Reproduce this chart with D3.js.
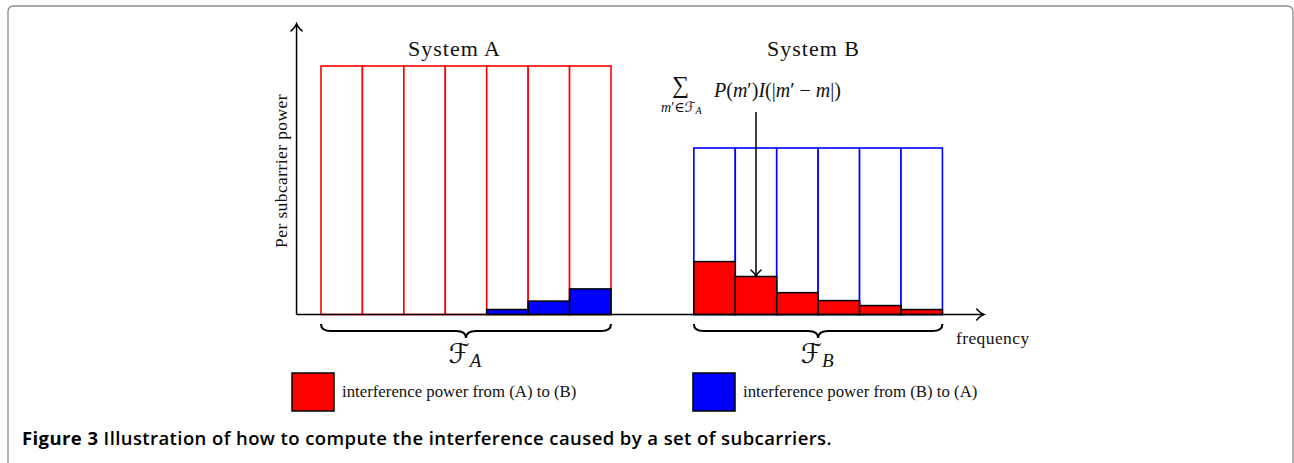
<!DOCTYPE html>
<html>
<head>
<meta charset="utf-8">
<script src="https://cdn.jsdelivr.net/npm/d3@7"></script>
<style>
  body { margin: 0; background: #fff; }
  svg { display: block; }
  .cm { font-family: "Liberation Serif", "DejaVu Serif", serif; fill: #111; }
</style>
</head>
<body>
<script>
// subcarrier indices of each system, and the power levels
const subcarriersA = [0, 1, 2, 3, 4, 5, 6];
const subcarriersB = [9, 10, 11, 12, 13, 14];
const powerA = [1, 1, 1, 1, 1, 1, 1];
const powerB = [0.67, 0.67, 0.67, 0.67, 0.67, 0.67];
const leakBtoA = [0, 0, 0, 0, 0.02, 0.054, 0.103];
const leakAtoB = [0.213, 0.153, 0.088, 0.056, 0.036, 0.02];
const systemTitles = ["System A", "System B"];
const legendLabels = ["interference power from (A) to (B)", "interference power from (B) to (A)"];
const legendColors = ["#ff0000", "#0000ff"];

const W = 1294, H = 463;
const svg = d3.select("body").append("svg").attr("width", W).attr("height", H);

// frame around the figure
svg.append("path")
    .attr("d", "M8,463 V12 Q8,6 14,6 H1287 Q1293,6 1293,12 V463")
    .attr("fill", "none").attr("stroke", "#8a8a8a").attr("stroke-width", 1.3);

let x = d3.scaleLinear().domain([0, 7]).range([321, 611]);
let y = d3.scaleLinear().domain([0, 1]).range([314.5, 66]);

let xAxisStart = -0.59, xAxisEnd = 16.0, yAxisEnd = 1.17;

// system A: red subcarrier outlines, blue leakage from B
svg.selectAll(".barA").data(subcarriersA).enter()
    .append("rect").attr("class", "barA")
    .attr("x", d => x(d)).attr("width", x(1) - x(0))
    .attr("y", (d, i) => y(powerA[i])).attr("height", (d, i) => y(0) - y(powerA[i]))
    .attr("fill", "#fff").attr("stroke", "#ff0000").attr("stroke-width", 1.6);

svg.selectAll(".leakA").data(subcarriersA.filter((d, i) => leakBtoA[i] > 0)).enter()
    .append("rect").attr("class", "leakA")
    .attr("x", d => x(d)).attr("width", x(1) - x(0))
    .attr("y", d => y(leakBtoA[subcarriersA.indexOf(d)]))
    .attr("height", d => y(0) - y(leakBtoA[subcarriersA.indexOf(d)]))
    .attr("fill", "#0000ff").attr("stroke", "#000").attr("stroke-width", 1.5);

// system B: blue outlines, red leakage from A
svg.selectAll(".barB").data(subcarriersB).enter()
    .append("rect").attr("class", "barB")
    .attr("x", d => x(d)).attr("width", x(1) - x(0))
    .attr("y", (d, i) => y(powerB[i])).attr("height", (d, i) => y(0) - y(powerB[i]))
    .attr("fill", "#fff").attr("stroke", "#0000ff").attr("stroke-width", 1.6);

svg.selectAll(".leakB").data(subcarriersB).enter()
    .append("rect").attr("class", "leakB")
    .attr("x", d => x(d)).attr("width", x(1) - x(0))
    .attr("y", (d, i) => y(leakAtoB[i])).attr("height", (d, i) => y(0) - y(leakAtoB[i]))
    .attr("fill", "#ff0000").attr("stroke", "#000").attr("stroke-width", 1.5);

// axes with open arrow heads
let ax = x(xAxisStart), ay = y(0);
svg.append("line").attr("x1", ax).attr("y1", ay).attr("x2", ax).attr("y2", y(yAxisEnd))
    .attr("stroke", "#000").attr("stroke-width", 1.5);
svg.append("line").attr("x1", ax).attr("y1", ay).attr("x2", x(xAxisEnd)).attr("y2", ay)
    .attr("stroke", "#000").attr("stroke-width", 1.5);

function arrowHead(tx, ty, dir, s) {
    // dir: "up", "down", "right"
    let p;
    if (dir === "up") p = `M${tx - s},${ty + s * 1.3} Q${tx - 1},${ty + 3} ${tx},${ty} Q${tx + 1},${ty + 3} ${tx + s},${ty + s * 1.3}`;
    else if (dir === "down") p = `M${tx - s},${ty - s * 1.3} Q${tx - 1},${ty - 3} ${tx},${ty} Q${tx + 1},${ty - 3} ${tx + s},${ty - s * 1.3}`;
    else p = `M${tx - s * 1.3},${ty - s} Q${tx - 3},${ty - 1} ${tx},${ty} Q${tx - 3},${ty + 1} ${tx - s * 1.3},${ty + s}`;
    svg.append("path").attr("d", p).attr("fill", "none")
        .attr("stroke", "#000").attr("stroke-width", 1.5).attr("stroke-linecap", "round");
}
arrowHead(ax, y(yAxisEnd), "up", 5.5);
arrowHead(x(xAxisEnd), ay, "right", 5.5);

svg.append("text").attr("class", "cm")
    .attr("transform", `translate(${ax - 10},171) rotate(-90)`)
    .attr("text-anchor", "middle").attr("font-size", 17.5).attr("letter-spacing", 0.4)
    .text("Per subcarrier power");

svg.append("text").attr("class", "cm")
    .attr("x", 956).attr("y", 344).attr("font-size", 17.5).attr("letter-spacing", 0.4)
    .text("frequency");

// system titles (sit a little left of their bar groups in the original)
let groups = [subcarriersA, subcarriersB];
let titleX = [454.5, 813.5];
svg.selectAll(".title").data(systemTitles).enter()
    .append("text").attr("class", "cm title")
    .attr("x", (d, i) => titleX[i])
    .attr("y", 56).attr("text-anchor", "middle").attr("font-size", 22).attr("letter-spacing", 1)
    .text(d => d);

// underbraces
function brace(x0, x1, y0) {
    let xm = (x0 + x1) / 2, y1 = y0 + 7, y2 = y0 + 14, r = 10;
    return `M${x0},${y0} Q${x0},${y1} ${x0 + r},${y1} L${xm - r},${y1} Q${xm},${y1} ${xm},${y2}` +
           ` Q${xm},${y1} ${xm + r},${y1} L${x1 - r},${y1} Q${x1},${y1} ${x1},${y0}`;
}
let braceNames = ["A", "B"];
groups.forEach((g, i) => {
    let x0 = x(g[0]), x1 = x(g[g.length - 1] + 1);
    svg.append("path").attr("d", brace(x0, x1, 324))
        .attr("fill", "none").attr("stroke", "#000").attr("stroke-width", 2);
    let t = svg.append("text").attr("class", "cm")
        .attr("x", (x0 + x1) / 2 - 1).attr("y", 363).attr("text-anchor", "middle");
    t.append("tspan").attr("font-family", "DejaVu Sans").attr("font-size", 27).text("\u2131");
    t.append("tspan").attr("font-size", 19).attr("font-style", "italic").attr("dy", 4).text(braceNames[i]);
});

// formula and arrow pointing at second subcarrier of B
let target = subcarriersB[1];
let tx = x(target + 0.5);
svg.append("line").attr("x1", tx).attr("y1", 112).attr("x2", tx).attr("y2", y(leakAtoB[1]) - 1)
    .attr("stroke", "#000").attr("stroke-width", 1.5);
arrowHead(tx, y(leakAtoB[1]), "down", 5);

svg.append("text").attr("class", "cm").attr("x", 680.5).attr("y", 93)
    .attr("text-anchor", "middle").attr("font-size", 24).text("\u2211");
let sub = svg.append("text").attr("class", "cm").attr("x", 661).attr("y", 112).attr("font-size", 14);
sub.append("tspan").attr("font-style", "italic").text("m");
sub.append("tspan").text("\u2032\u2208");
sub.append("tspan").attr("font-family", "DejaVu Sans").text("\u2131");
sub.append("tspan").attr("font-style", "italic").attr("font-size", 10).attr("dy", 2).text("A");

let f = svg.append("text").attr("class", "cm").attr("x", 714).attr("y", 97)
    .attr("font-size", 20);
[["P", 1], ["(", 0], ["m", 1], ["\u2032)", 0], ["I", 1], ["(|", 0], ["m", 1], ["\u2032 \u2212 ", 0], ["m", 1], ["|)", 0]]
    .forEach(p => f.append("tspan").attr("font-style", p[1] ? "italic" : "normal").text(p[0]));

// legend
let legendX = [292, 693];
legendLabels.forEach((lab, i) => {
    svg.append("rect").attr("x", legendX[i]).attr("y", 373).attr("width", 42).attr("height", 38)
        .attr("fill", legendColors[i]).attr("stroke", "#000").attr("stroke-width", 1.5);
    svg.append("text").attr("class", "cm").attr("x", legendX[i] + 50).attr("y", 397)
        .attr("font-size", 16.8).text(lab);
});

// caption, spaced out to the width it has in the figure
let cap = svg.append("text").attr("x", 22).attr("y", 445)
    .attr("font-family", "'Open Sans', Lato, sans-serif").attr("font-size", 18.5).attr("fill", "#000");
cap.append("tspan").attr("font-weight", "bold").text("Figure 3");
cap.append("tspan").attr("font-weight", 600).text(" Illustration of how to compute the interference caused by a set of subcarriers.");
let capW = cap.node().getComputedTextLength();
let nChars = cap.text().length;
cap.attr("letter-spacing", (810 - capW) / nChars);
</script>
</body>
</html>
